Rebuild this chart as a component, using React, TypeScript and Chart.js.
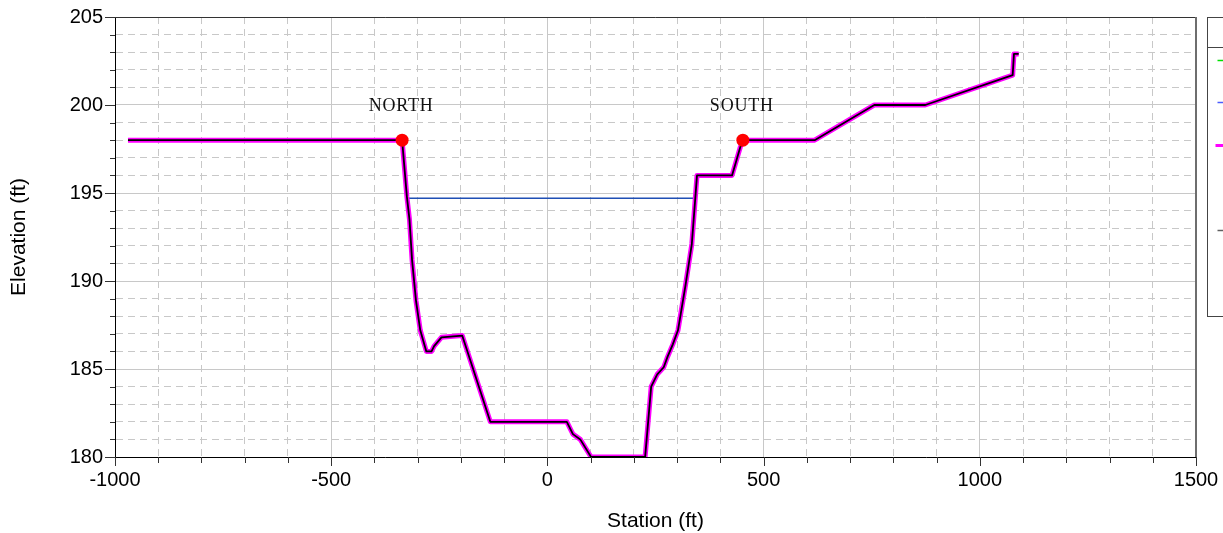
import React, { useEffect, useRef } from 'react';
import { Chart, registerables } from 'chart.js';

Chart.register(...registerables);

// Ground profile (station ft, elevation ft)
const groundStation = [
  -970, -336, -325, -319, -313, -304, -294, -280, -268, -262, -245, -197, -132,
  45, 59, 76, 101, 226, 240, 254, 269, 278, 290, 302, 319, 334, 342, 346, 427,
  446, 452, 618, 756, 874, 1076, 1079, 1090,
];
const groundElev = [
  198, 198, 194.8, 193.5, 191.2, 188.9, 187.2, 186.0, 186.0, 186.3, 186.8, 186.9, 182.0,
  182.0, 181.3, 181.0, 180.0, 180.0, 184.0, 184.7, 185.1, 185.7, 186.4, 187.2, 189.7, 192.1, 194.7, 196.0, 196.0,
  197.6, 198.0, 198.0, 200.0, 200.0, 201.7, 202.9, 202.9,
];

// Water surface
const wsStation = [-325, 342];
const wsElev = [194.7, 194.7];

// Bank stations
const bankStation = [-336, 452];
const bankElev = [198, 198];
const bankLabels = ['NORTH', 'SOUTH'];

// Axes
const xMin = -1000;
const xMax = 1500;
const yMin = 180;
const yMax = 205;
const xLabelStep = 500;
const yLabelStep = 5;

// Legend swatch colours (cut off at the right edge)
const legendColors = ['#00e000', '#4a5cff', '#ff00ff', '#606060'];
const legendWidths = [1.5, 1.5, 3, 1.5];

const toPts = (xs: number[], ys: number[]) => xs.map((x, i) => ({ x, y: ys[i] }));

const overlayPlugin = {
  id: 'overlay',
  afterDraw(chart: any) {
    const { ctx, chartArea: a, scales } = chart;
    const xs = scales.x;
    const ys = scales.y;
    ctx.save();

    // frame: top and right
    ctx.strokeStyle = '#333';
    ctx.lineWidth = 1;
    ctx.beginPath();
    ctx.moveTo(a.left, Math.round(a.top) + 0.5);
    ctx.lineTo(a.right, Math.round(a.top) + 0.5);
    ctx.stroke();
    ctx.strokeStyle = '#6e6e6e';
    ctx.lineWidth = 2;
    ctx.beginPath();
    ctx.moveTo(Math.round(a.right), a.top);
    ctx.lineTo(Math.round(a.right), a.bottom);
    ctx.stroke();

    // tick marks
    ctx.strokeStyle = '#333';
    ctx.lineWidth = 1;
    xs.ticks.forEach((t: any) => {
      const px = Math.round(xs.getPixelForValue(t.value)) + 0.5;
      const major = t.value % xLabelStep === 0;
      ctx.beginPath();
      ctx.moveTo(px, a.bottom);
      ctx.lineTo(px, a.bottom + (major ? 9 : 6));
      ctx.stroke();
    });
    ys.ticks.forEach((t: any) => {
      const py = Math.round(ys.getPixelForValue(t.value)) + 0.5;
      const major = t.value % yLabelStep === 0;
      ctx.beginPath();
      ctx.moveTo(a.left, py);
      ctx.lineTo(a.left - (major ? 10 : 5), py);
      ctx.stroke();
    });

    // bank labels
    ctx.fillStyle = '#111';
    ctx.font = '18px "Liberation Serif"';
    ctx.textAlign = 'center';
    ctx.textBaseline = 'alphabetic';
    try { (ctx as any).letterSpacing = '0.8px'; } catch (e) {}
    bankStation.forEach((s, i) => {
      const px = xs.getPixelForValue(s);
      const py = ys.getPixelForValue(bankElev[i]);
      ctx.fillText(bankLabels[i], px - 1, py - 29);
    });
    try { (ctx as any).letterSpacing = '0px'; } catch (e) {}

    // legend box (cut off)
    const lx = Math.round(a.right) + 11.5;
    ctx.strokeStyle = '#444';
    ctx.lineWidth = 1;
    ctx.strokeRect(lx, Math.round(a.top) + 0.5, 60, 299);
    ctx.beginPath();
    ctx.moveTo(lx, Math.round(a.top) + 30.5);
    ctx.lineTo(lx + 60, Math.round(a.top) + 30.5);
    ctx.stroke();
    const rows = [43, 85, 128, 213];
    rows.forEach((r, i) => {
      ctx.strokeStyle = legendColors[i];
      ctx.lineWidth = legendWidths[i];
      ctx.beginPath();
      ctx.moveTo(lx + (i === 2 ? 8 : 10), Math.round(a.top) + r + 0.5);
      ctx.lineTo(lx + 30, Math.round(a.top) + r + 0.5);
      ctx.stroke();
    });

    ctx.restore();
  },
};

export default function App() {
  const ref = useRef<HTMLCanvasElement>(null);

  useEffect(() => {
    if (!ref.current) return;
    const gridColor = (c: any) => '#c8c8c8';
    const chart = new Chart(ref.current, {
      type: 'scatter',
      data: {
        datasets: [
          {
            label: 'Bank Sta',
            data: toPts(bankStation, bankElev),
            showLine: false,
            pointRadius: 6.5,
            pointBackgroundColor: '#ff0000',
            pointBorderColor: '#ff0000',
            pointBorderWidth: 0,
          },
          {
            label: 'Ground',
            data: toPts(groundStation, groundElev),
            showLine: true,
            borderColor: '#000000',
            borderWidth: 1.8,
            pointRadius: 0,
            tension: 0,
            borderJoinStyle: 'round',
          },
          {
            label: 'Ground outline',
            data: toPts(groundStation, groundElev),
            showLine: true,
            borderColor: '#ff00ff',
            borderWidth: 5,
            pointRadius: 0,
            tension: 0,
            borderJoinStyle: 'round',
          },
          {
            label: 'WS',
            data: toPts(wsStation, wsElev),
            showLine: true,
            borderColor: '#1f4fb5',
            borderWidth: 1.6,
            pointRadius: 0,
          },
        ],
      },
      options: {
        animation: false,
        responsive: false,
        devicePixelRatio: 1,
        layout: { padding: { top: 17, right: 27, left: 0, bottom: 0 } },
        plugins: { legend: { display: false }, tooltip: { enabled: false } },
        scales: {
          x: {
            type: 'linear',
            min: xMin,
            max: xMax,
            afterFit: (s: any) => {
              s.height = 76;
              s.paddingLeft = 0;
              s.paddingRight = 0;
              s.paddingTop = 0;
              s.paddingBottom = 0;
            },
            ticks: {
              stepSize: 100,
              autoSkip: false,
              maxRotation: 0,
              padding: 11,
              color: '#000',
              font: { family: 'Liberation Sans', size: 20 },
              callback: (v: any) => (Number(v) % xLabelStep === 0 ? String(v) : ''),
            },
            grid: {
              drawTicks: false,
              color: gridColor,
              lineWidth: 1,
            },
            border: {
              color: '#000',
              width: 1,
              dash: (c: any) => (c.tick && c.tick.value % xLabelStep !== 0 ? [7, 5] : []),
            },
            title: {
              display: true,
              text: 'Station (ft)',
              color: '#000',
              font: { family: 'Liberation Sans', size: 21, lineHeight: 1.1 },
              padding: { top: 0, bottom: 0 },
            },
          },
          y: {
            type: 'linear',
            min: yMin,
            max: yMax,
            afterFit: (s: any) => {
              s.width = 115;
              s.paddingLeft = 0;
              s.paddingRight = 0;
              s.paddingTop = 0;
              s.paddingBottom = 0;
            },
            ticks: {
              stepSize: 1,
              autoSkip: false,
              padding: 12,
              color: '#000',
              font: { family: 'Liberation Sans', size: 20 },
              callback: (v: any) => (Number(v) % yLabelStep === 0 ? String(v) : ''),
            },
            grid: {
              drawTicks: false,
              color: gridColor,
              lineWidth: 1,
            },
            border: {
              color: '#000',
              width: 1,
              dash: (c: any) => (c.tick && c.tick.value % yLabelStep !== 0 ? [7, 5] : []),
            },
            title: {
              display: true,
              text: 'Elevation (ft)',
              color: '#000',
              font: { family: 'Liberation Sans', size: 21, lineHeight: 1.1 },
              padding: { top: 8, bottom: 0 },
            },
          },
        },
      },
      plugins: [overlayPlugin],
    } as any);
    return () => chart.destroy();
  }, []);

  return (
    <div style={{ position: 'absolute', left: 0, top: 0, width: 1223, height: 533, background: '#fff' }}>
      <canvas ref={ref} width={1223} height={533} style={{ display: 'block' }} />
    </div>
  );
}
